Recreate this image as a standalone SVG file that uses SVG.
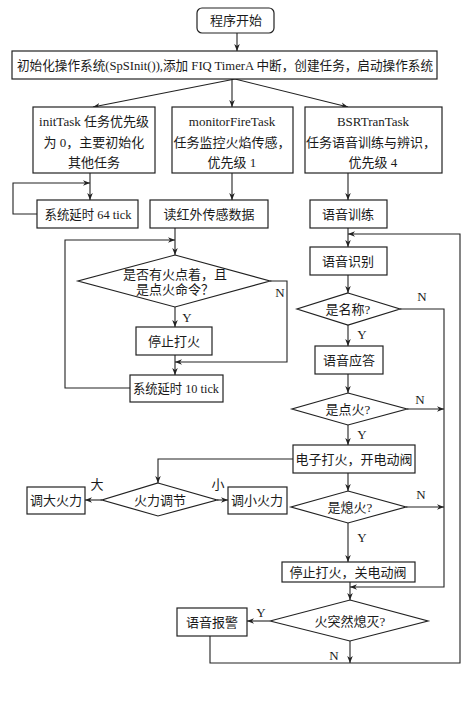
<svg xmlns="http://www.w3.org/2000/svg" width="471" height="708" viewBox="0 0 471 708">
<style>
.n rect,.n polygon{fill:#fff;stroke:#222;stroke-width:1.2}
text{font-family:"Liberation Serif","Noto Sans CJK SC",serif;font-size:13px;fill:#1a1a1a;text-anchor:middle}
.lbl{font-size:13px}
.c path,.c line{fill:none;stroke:#222;stroke-width:1.1}
</style>
<defs>
<marker id="a" viewBox="0 0 10 10" refX="10" refY="5" markerWidth="7" markerHeight="7" orient="auto" markerUnits="userSpaceOnUse">
<path d="M0,1 L10,5 L0,9 L3,5 z" fill="#222"/>
</marker>
</defs>
<rect width="471" height="708" fill="#fff"/>

<g class="c" id="connectors">
<line x1="237" y1="33" x2="237" y2="51" marker-end="url(#a)"/>
<line x1="235" y1="79" x2="93" y2="107" marker-end="url(#a)"/>
<line x1="232" y1="79" x2="232" y2="107" marker-end="url(#a)"/>
<line x1="235" y1="79" x2="348" y2="107" marker-end="url(#a)"/>
<line x1="90" y1="173" x2="90" y2="200" marker-end="url(#a)"/>
<path d="M37,214 H13 V183 H90" marker-end="url(#a)"/>
<line x1="232" y1="173" x2="232" y2="200" marker-end="url(#a)"/>
<line x1="175" y1="228" x2="175" y2="255" marker-end="url(#a)"/>
<path d="M130,388 H65 V240 H175" marker-end="url(#a)"/>
<line x1="175" y1="307" x2="175" y2="327" marker-end="url(#a)"/>
<line x1="175" y1="355" x2="175" y2="375" marker-end="url(#a)"/>
<path d="M270,281 H287 V362 H175" marker-end="url(#a)"/>
<line x1="348" y1="173" x2="348" y2="200" marker-end="url(#a)"/>
<line x1="348" y1="228" x2="348" y2="247" marker-end="url(#a)"/>
<path d="M210,636 V663 H460 V234 H348" marker-end="url(#a)"/>
<line x1="348" y1="275" x2="348" y2="293" marker-end="url(#a)"/>
<line x1="348" y1="325" x2="348" y2="346" marker-end="url(#a)"/>
<line x1="348" y1="374" x2="348" y2="393" marker-end="url(#a)"/>
<path d="M400,309 H444 V587 H350" marker-end="url(#a)"/>
<line x1="407" y1="409" x2="444" y2="409" marker-end="url(#a)"/>
<line x1="348" y1="425" x2="348" y2="445" marker-end="url(#a)"/>
<path d="M293,459 H158 V483" marker-end="url(#a)"/>
<line x1="102" y1="500" x2="85" y2="500" marker-end="url(#a)"/>
<line x1="217" y1="500" x2="228" y2="500" marker-end="url(#a)"/>
<line x1="348" y1="473" x2="348" y2="491" marker-end="url(#a)"/>
<line x1="406" y1="507" x2="444" y2="507" marker-end="url(#a)"/>
<line x1="348" y1="523" x2="348" y2="562" marker-end="url(#a)"/>
<line x1="350" y1="582" x2="350" y2="600" marker-end="url(#a)"/>
<line x1="270" y1="621" x2="247" y2="621" marker-end="url(#a)"/>
<line x1="350" y1="641" x2="350" y2="663" marker-end="url(#a)"/>
</g>

<g class="lbl" id="labels">
<text x="280" y="297">N</text>
<text x="187" y="322">Y</text>
<text x="422" y="301">N</text>
<text x="362" y="339">Y</text>
<text x="420" y="404">N</text>
<text x="362" y="439">Y</text>
<text x="97" y="489">大</text>
<text x="218" y="489">小</text>
<text x="421" y="499">N</text>
<text x="362" y="542">Y</text>
<text x="261" y="617">Y</text>
<text x="334" y="660">N</text>
</g>

<g class="n" id="start"><rect x="197" y="8" width="77" height="25" rx="5"/><text x="236" y="25">程序开始</text></g>
<g class="n" id="init"><rect x="12" y="51" width="425" height="28"/><text x="225" y="70" textLength="416" lengthAdjust="spacingAndGlyphs">初始化操作系统(SpSInit()),添加 FIQ TimerA 中断，创建任务，启动操作系统</text></g>
<g class="n" id="initTask"><rect x="33" y="107" width="122" height="66"/><text x="94" y="126">initTask 任务优先级</text><text x="94" y="147">为 0，主要初始化</text><text x="94" y="167">其他任务</text></g>
<g class="n" id="monitorFireTask"><rect x="172" y="107" width="121" height="66"/><text x="232" y="126">monitorFireTask</text><text x="232" y="147">任务监控火焰传感，</text><text x="232" y="167">优先级 1</text></g>
<g class="n" id="BSRTranTask"><rect x="305" y="107" width="137" height="66"/><text x="373" y="126">BSRTranTask</text><text x="371" y="147">任务语音训练与辨识，</text><text x="373" y="167">优先级 4</text></g>
<g class="n" id="delay64"><rect x="37" y="200" width="101" height="28"/><text x="88" y="219" textLength="87" lengthAdjust="spacingAndGlyphs">系统延时 64 tick</text></g>
<g class="n" id="readIR"><rect x="150" y="200" width="118" height="28"/><text x="209" y="219">读红外传感数据</text></g>
<g class="n" id="fireCheck"><polygon points="175,255 270,281 175,307 78,281"/><text x="175" y="279">是否有火点着，且</text><text x="175" y="294">是点火命令？</text></g>
<g class="n" id="stopFire1"><rect x="136" y="327" width="76" height="28"/><text x="174" y="346">停止打火</text></g>
<g class="n" id="delay10"><rect x="130" y="375" width="93" height="27"/><text x="176" y="393" textLength="86" lengthAdjust="spacingAndGlyphs">系统延时 10 tick</text></g>
<g class="n" id="train"><rect x="310" y="200" width="77" height="28"/><text x="348" y="219">语音训练</text></g>
<g class="n" id="recog"><rect x="310" y="247" width="77" height="28"/><text x="348" y="266">语音识别</text></g>
<g class="n" id="isName"><polygon points="348,293 400,309 348,325 297,309"/><text x="348" y="314">是名称?</text></g>
<g class="n" id="reply"><rect x="315" y="346" width="68" height="28"/><text x="349" y="365">语音应答</text></g>
<g class="n" id="isIgnite"><polygon points="348,393 407,409 348,425 292,409"/><text x="348" y="414">是点火?</text></g>
<g class="n" id="ignite"><rect x="293" y="445" width="122" height="28"/><text x="354" y="464">电子打火，开电动阀</text></g>
<g class="n" id="adjust"><polygon points="158,483 217,500 158,516 102,500"/><text x="160" y="505">火力调节</text></g>
<g class="n" id="bigger"><rect x="27" y="487" width="58" height="27"/><text x="56" y="505">调大火力</text></g>
<g class="n" id="smaller"><rect x="228" y="487" width="59" height="27"/><text x="257" y="505">调小火力</text></g>
<g class="n" id="isOut"><polygon points="348,491 406,507 348,523 291,507"/><text x="350" y="512">是熄火?</text></g>
<g class="n" id="stopFire2"><rect x="282" y="562" width="133" height="20"/><text x="348" y="577">停止打火，关电动阀</text></g>
<g class="n" id="suddenOut"><polygon points="350,600 428,621 350,641 270,621"/><text x="350" y="626">火突然熄灭?</text></g>
<g class="n" id="alarm"><rect x="177" y="608" width="70" height="28"/><text x="212" y="627">语音报警</text></g>
</svg>
